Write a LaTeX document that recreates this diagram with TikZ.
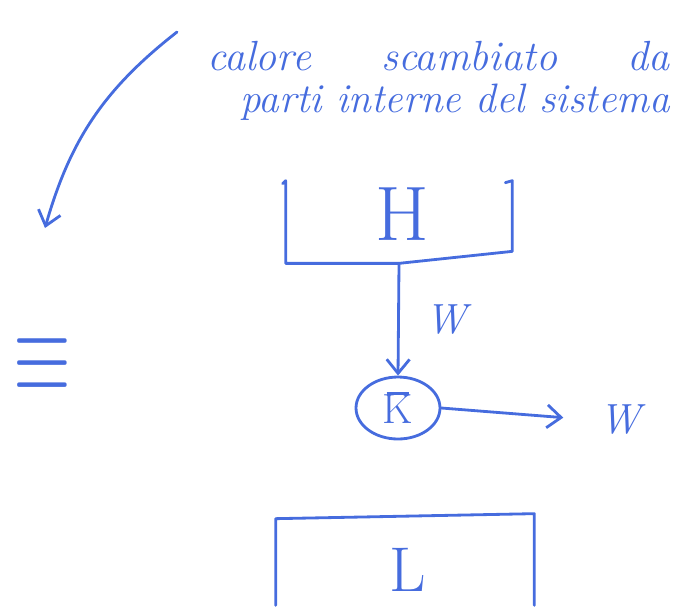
\documentclass[tikz,border=0pt]{standalone}
\usetikzlibrary{arrows.meta}
\usetikzlibrary{calc}
\usetikzlibrary{shapes.geometric}
\definecolor{ink}{RGB}{70,108,222}
\tikzset{
  pen/.style={draw=ink, line width=1.6pt, line cap=round, line join=round},
  hand/.style={text=ink, font=\itshape\fontsize{24}{28}\selectfont},
  barb/.style={-{Straight Barb[length=8pt,width=13pt]}}
}

\begin{document}
\begin{tikzpicture}[x=0.02cm,y=-0.02cm]
            \useasboundingbox (0,0) rectangle (685,609);
            \node[hand, anchor=base west, inner sep=0pt] (calore) at (207,70) {calore\hspace{1.4cm}scambiato\hspace{1.4cm}da};
            \node[hand, anchor=base west, inner sep=0pt, font=\itshape\fontsize{23.4}{28}\selectfont] (parti) at (240,112) {parti interne del sistema};
            \coordinate (cstart) at (177,32);
            \coordinate (cend) at (45,228);
            \draw[pen,barb] (cstart) to[bend right=18] (cend);
            \node[text=ink, font=\fontsize{24}{28}\selectfont, xscale=1.7, yscale=2.6] (equiv) at (42,365) {$\equiv$};
            \node[minimum width=4.52cm, minimum height=1.64cm] (hbox) at (399,222) {};
            \node[text=ink, font=\fontsize{44}{50}\selectfont] (H) at (402,214) {H};
            \draw[pen] ($(hbox.north west)+(-3,3)$) -- (hbox.north west) -- (hbox.south west) -- (hbox.south) -- ($(hbox.south east)+(0,-12)$) -- (hbox.north east) -- ++(-7,2);
            \node[ellipse, pen, minimum width=1.68cm, minimum height=1.24cm, text=ink, font=\fontsize{24}{28}\selectfont, inner sep=1pt] (K) at (398,408) {\shortstack{\rule{13pt}{1.4pt}\\[-3pt]K}};
            \draw[pen,barb] (hbox.south) to node[hand, right=0.4cm] (w1) {W} (K.north);
            \node[hand] (w2) at (620,420) {W};
            \draw[pen,barb,shorten >=0.6cm] (K.east) to (w2.west);
            \node[minimum width=5.16cm, minimum height=1.72cm] (lbox) at (405,562) {};
            \node[text=ink, font=\fontsize{36}{40}\selectfont] (L) at (408,570) {L};
            \draw[pen] (lbox.south west) -- (lbox.north west) -- ($(lbox.north east)+(0,-5)$) -- (lbox.south east);
        \end{tikzpicture}
\end{document}
